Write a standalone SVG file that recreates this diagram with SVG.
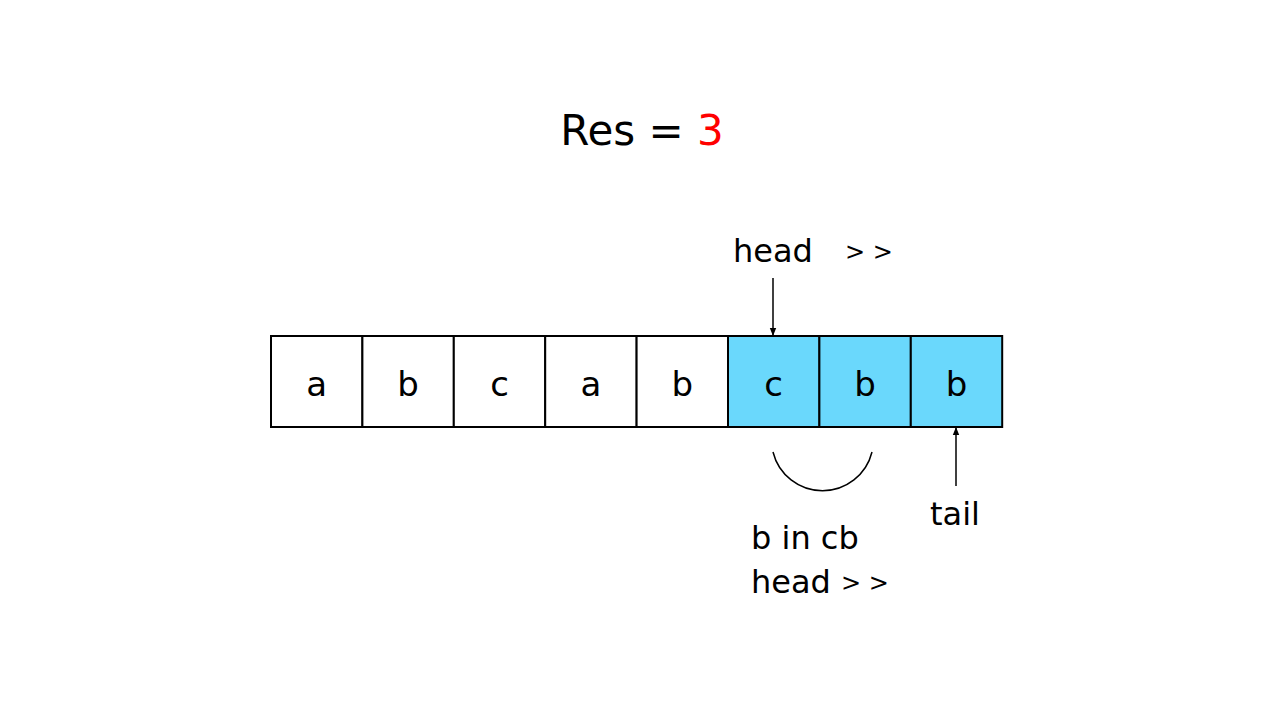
<svg xmlns="http://www.w3.org/2000/svg" width="1280" height="720" viewBox="0 0 1280 720">
<defs>
<style>
text{font-family:"DejaVu Sans","Liberation Sans",sans-serif;fill:#000}
.cell{stroke:#000;stroke-width:2}
.w{fill:#fff}
.b{fill:#6AD8FC}
.lt{font-size:34px;text-anchor:middle}
.lbl{font-size:32px}
.gt{font-size:24px}
.ln{stroke:#000;stroke-width:1.5;fill:none}
</style>
<marker id="ah" viewBox="0 0 10 10" refX="10" refY="5" markerWidth="8" markerHeight="8" orient="auto-start-reverse" markerUnits="userSpaceOnUse">
<path d="M0,1 L10,5 L0,9 z" fill="#000"/>
</marker>
</defs>
<rect width="1280" height="720" fill="#fff"/>
<g id="title"><text x="642" y="145" font-size="42" text-anchor="middle">Res = <tspan fill="#FF0000">3</tspan></text></g>
<g id="cells">
<g id="c0"><rect class="cell w" x="271" y="336" width="91.4" height="91"/><text class="lt" x="316.7" y="396">a</text></g>
<g id="c1"><rect class="cell w" x="362.4" y="336" width="91.4" height="91"/><text class="lt" x="408.1" y="396">b</text></g>
<g id="c2"><rect class="cell w" x="453.8" y="336" width="91.4" height="91"/><text class="lt" x="499.5" y="396">c</text></g>
<g id="c3"><rect class="cell w" x="545.2" y="336" width="91.4" height="91"/><text class="lt" x="590.9" y="396">a</text></g>
<g id="c4"><rect class="cell w" x="636.6" y="336" width="91.4" height="91"/><text class="lt" x="682.3" y="396">b</text></g>
<g id="c5"><rect class="cell b" x="728" y="336" width="91.4" height="91"/><text class="lt" x="773.7" y="396">c</text></g>
<g id="c6"><rect class="cell b" x="819.4" y="336" width="91.4" height="91"/><text class="lt" x="865.1" y="396">b</text></g>
<g id="c7"><rect class="cell b" x="910.8" y="336" width="91.4" height="91"/><text class="lt" x="956.5" y="396">b</text></g>
</g>
<g id="head-label"><text class="lbl" x="733" y="262">head</text><text class="gt" x="845" y="260">&gt; &gt;</text></g>
<g id="tail-label"><text class="lbl" x="955" y="525" text-anchor="middle">tail</text></g>
<g id="note"><text class="lbl" x="751" y="549">b in cb</text><text class="lbl" x="751" y="593">head <tspan class="gt" dy="-2">&gt; &gt;</tspan></text></g>
<g id="connectors">
<line class="ln" x1="773" y1="278" x2="773" y2="336" marker-end="url(#ah)"/>
<line class="ln" x1="956" y1="486" x2="956" y2="427" marker-end="url(#ah)"/>
<path class="ln" d="M773,452 A51,51 0 0 0 872,452"/>
</g>
</svg>
